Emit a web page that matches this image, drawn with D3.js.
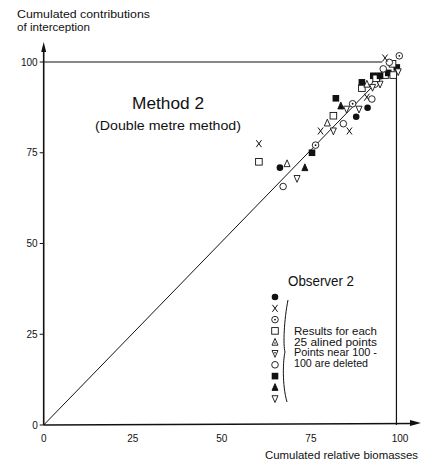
<!DOCTYPE html>
<html><head><meta charset="utf-8">
<script src="https://cdn.jsdelivr.net/npm/d3@7"></script>
<style>body{margin:0;background:#fff}svg{display:block}text{font-family:"Liberation Sans",Arial,sans-serif;fill:#111}</style>
</head><body>
<svg id="c" width="432" height="465"></svg>
<script>
const xTicks = [0, 25, 50, 75, 100];
const yTicks = [0, 25, 50, 75, 100];
const legendTypes = ["fcircle","cross","dcircle","osquare","dtriup","dtridown","ocircle","fsquare","ftriup","otridown"];
const legendNotes = ["Results for each","25 alined points","Points near 100 -","100 are deleted"];
const pointX = [60.4,60.4,66.3,68.3,67.2,71.1,73.3,75.3,76.3,77.7,79.6,81.3,81.3,84.1,85.8,82.0,83.4,86.7,85.0,88.5,87.7,90.9,90.7,92.1,89.3,89.3,90.7,93.0,94.4,92.5,93.9,93.3,95.8,96.7,95.3,98.1,99.1,99.5,97.9,97.0,95.8,99.8,92.3,94.4];
const pointY = [77.5,72.5,70.9,72.0,65.7,67.9,70.9,75.0,77.1,81.0,83.2,81.0,85.2,83.0,81.0,90.0,87.9,88.5,87.0,87.0,84.9,87.4,90.3,89.8,92.8,94.4,93.9,93.9,93.9,96.2,96.1,95.5,96.4,97.0,98.1,96.4,98.5,97.3,99.5,99.9,101.1,101.7,93.0,96.2];
const pointType = ["cross","osquare","fcircle","otriup","ocircle","otridown","ftriup","fsquare","dcircle","cross","otriup","otridown","osquare","ocircle","cross","fsquare","ftriup","dcircle","otridown","otridown","fcircle","fcircle","cross","ocircle","osquare","fsquare","otriup","ocircle","otridown","fsquare","fsquare","osquare","osquare","fsquare","ocircle","osquare","fsquare","otridown","osquare","ocircle","cross","dcircle","otridown","fsquare"];
const lineX = [0, 96];
const lineY = [0, 97];

const svg = d3.select("#c");
const x = d3.scaleLinear().domain([0, 100]).range([43.7, 400]);
const y = d3.scaleLinear().domain([0, 100]).range([425, 62]);
const ink = "#111";

// axes
svg.append("line").attr("x1", x(0)).attr("y1", y(0)).attr("x2", x(0)).attr("y2", 47).attr("stroke", ink).attr("stroke-width", 1.6);
svg.append("path").attr("d", `M${x(0)},42 L${x(0)-2.5},52 L${x(0)+2.5},52 Z`).attr("fill", ink);
svg.append("line").attr("x1", x(0)).attr("y1", y(0)).attr("x2", 415).attr("y2", y(0) - 1.5).attr("stroke", ink).attr("stroke-width", 1.6);
svg.append("path").attr("d", `M421,${y(0)-2} L410,${y(0)-5} L410,${y(0)+1} Z`).attr("fill", ink);

// y ticks and labels
yTicks.forEach(t => {
  svg.append("line").attr("x1", x(0) - 4).attr("x2", x(0)).attr("y1", y(t)).attr("y2", y(t)).attr("stroke", ink).attr("stroke-width", 1);
  svg.append("text").attr("x", x(0) - 6).attr("y", y(t) + 3.5).attr("text-anchor", "end").attr("font-size", 10).text(t);
});
xTicks.forEach(t => {
  svg.append("text").attr("x", x(t)).attr("y", 442).attr("text-anchor", "middle").attr("font-size", 10).text(t);
});

// reference lines
svg.append("line").attr("x1", x(0)).attr("x2", x(95)).attr("y1", y(100)).attr("y2", y(100)).attr("stroke", ink).attr("stroke-width", 1.2);
svg.append("line").attr("x1", x(99)).attr("x2", x(99)).attr("y1", y(96)).attr("y2", y(0)).attr("stroke", ink).attr("stroke-width", 1.2);
svg.append("line").attr("x1", x(lineX[0])).attr("y1", y(lineY[0])).attr("x2", x(lineX[1])).attr("y2", y(lineY[1])).attr("stroke", ink).attr("stroke-width", 1);

// symbols
function drawSym(g, type, cx, cy) {
  const s = 3.3;
  if (type === "fcircle") g.append("circle").attr("cx", cx).attr("cy", cy).attr("r", s).attr("fill", ink);
  else if (type === "ocircle") g.append("circle").attr("cx", cx).attr("cy", cy).attr("r", s).attr("fill", "#fff").attr("stroke", ink).attr("stroke-width", 0.9);
  else if (type === "dcircle") {
    g.append("circle").attr("cx", cx).attr("cy", cy).attr("r", s).attr("fill", "#fff").attr("stroke", ink).attr("stroke-width", 0.9);
    g.append("circle").attr("cx", cx).attr("cy", cy).attr("r", 0.9).attr("fill", ink);
  }
  else if (type === "osquare") g.append("rect").attr("x", cx - s).attr("y", cy - s).attr("width", 2*s).attr("height", 2*s).attr("fill", "#fff").attr("stroke", ink).attr("stroke-width", 0.9);
  else if (type === "fsquare") g.append("rect").attr("x", cx - s).attr("y", cy - s).attr("width", 2*s).attr("height", 2*s).attr("fill", ink);
  else if (type === "cross") g.append("path").attr("d", `M${cx-2.6},${cy-3.5}L${cx+2.6},${cy+3.5}M${cx+2.6},${cy-3.5}L${cx-2.6},${cy+3.5}`).attr("stroke", ink).attr("stroke-width", 1);
  else if (type === "ftriup" || type === "otriup" || type === "dtriup") {
    g.append("path").attr("d", `M${cx},${cy-3.8}L${cx+3},${cy+3}L${cx-3},${cy+3}Z`).attr("fill", type === "ftriup" ? ink : "#fff").attr("stroke", ink).attr("stroke-width", 0.9);
    if (type === "dtriup") g.append("circle").attr("cx", cx).attr("cy", cy + 0.8).attr("r", 0.8).attr("fill", ink);
  }
  else if (type === "otridown" || type === "dtridown") {
    g.append("path").attr("d", `M${cx-3},${cy-3}L${cx+3},${cy-3}L${cx},${cy+3.8}Z`).attr("fill", "#fff").attr("stroke", ink).attr("stroke-width", 0.9);
    if (type === "dtridown") g.append("circle").attr("cx", cx).attr("cy", cy - 0.8).attr("r", 0.8).attr("fill", ink);
  }
}
const pg = svg.append("g");
pointX.forEach((v, i) => drawSym(pg, pointType[i], x(v), y(pointY[i])));

// legend
const lg = svg.append("g");
legendTypes.forEach((t, i) => drawSym(lg, t, 275, 297 + i * 11.3));
lg.append("path").attr("d", "M288,300 C284,320 283,345 285,352 C283,360 282,385 287,402").attr("fill", "none").attr("stroke", ink).attr("stroke-width", 1);
legendNotes.forEach((t, i) => {
  lg.append("text").attr("x", 294).attr("y", 335 + i * 10.5).attr("font-size", 10).attr("textLength", i === 3 ? 74 : 83).attr("lengthAdjust", "spacingAndGlyphs").text(t);
});

// titles
svg.append("text").attr("x", 17).attr("y", 18).attr("font-size", 11).attr("textLength", 133).attr("lengthAdjust", "spacingAndGlyphs").text("Cumulated contributions");
svg.append("text").attr("x", 17).attr("y", 31).attr("font-size", 11).attr("textLength", 73).attr("lengthAdjust", "spacingAndGlyphs").text("of interception");
svg.append("text").attr("x", 132).attr("y", 109).attr("font-size", 16).attr("textLength", 72).attr("lengthAdjust", "spacingAndGlyphs").text("Method 2");
svg.append("text").attr("x", 95).attr("y", 130).attr("font-size", 12.5).attr("textLength", 146).attr("lengthAdjust", "spacingAndGlyphs").text("(Double metre method)");
svg.append("text").attr("x", 288).attr("y", 286).attr("font-size", 14).attr("textLength", 66).attr("lengthAdjust", "spacingAndGlyphs").text("Observer 2");
svg.append("text").attr("x", 265).attr("y", 459).attr("font-size", 11).attr("textLength", 153).attr("lengthAdjust", "spacingAndGlyphs").text("Cumulated relative biomasses");
</script>
</body></html>
